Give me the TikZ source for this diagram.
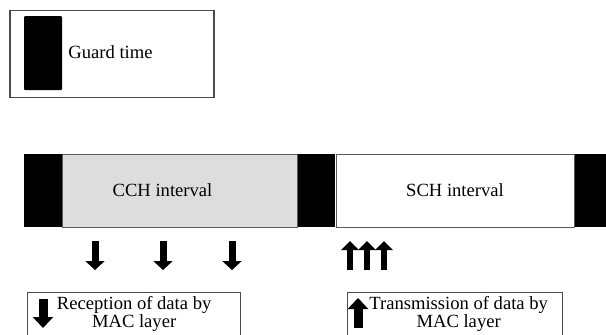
\documentclass[tikz,border=0pt]{standalone}
\usepackage{fontspec}
\setmainfont{Liberation Serif}
\usetikzlibrary{arrows.meta,positioning}

\begin{document}
\begin{tikzpicture}[x=1pt, y=-1pt,
  every node/.style = {font=\fontsize{18.6}{18}\selectfont, inner sep=0pt},
  guard/.style  = {rectangle, fill=black, minimum width=37pt,
                   minimum height=73pt},
  slot/.style   = {rectangle, draw=black!65, line width=0.8pt,
                   minimum height=73pt},
  keybox/.style = {rectangle, draw=black!70, line width=1.3pt,
                   anchor=north west},
  recv/.style   = {-{Triangle[width=19pt, length=9pt]}, line width=7pt},
  send/.style   = {-{Triangle[width=17pt, length=9pt]}, line width=6pt},
  keyarrow/.style = {-{Triangle[width=20pt, length=11pt]}, line width=9pt},
]
  \useasboundingbox (0,0) rectangle (606,335);

  % legend: guard time
  \node[keybox, minimum width=204pt, minimum height=87pt] (guardkey) at (9.3,10) {};
  \node[guard, minimum width=38pt, minimum height=74pt,
        rounded corners=1pt] (guardsym) at (43,53) {};
  \node[anchor=base] (guardtext) at (110.5,58) {Guard time};

  % sync interval
  \node[guard, minimum width=38pt, anchor=west] (g1) at (24,190.5) {};
  \node[slot, fill=gray!27, minimum width=235pt, right=0pt of g1] (cch) {};
  \node[guard, right=0pt of cch] (g2) {};
  \node[slot, fill=white, minimum width=238pt, right=0pt of g2] (sch)
    {SCH interval};
  \node[guard, minimum width=60pt, right=0pt of sch] (g3) {};
  \node[anchor=base] (cchtext) at (162.5,196) {CCH interval};

  % data to and from the MAC layer
  \foreach \x in {95,163,232}
    \draw[recv] (\x,241) -- (\x,270);
  \foreach \x in {350,367,384}
    \draw[send] (\x,270) -- (\x,241);

  % legend: arrows
  \node[keybox, minimum width=213pt, minimum height=60pt] (recvkey) at (27,292) {};
  \node[below=4.5pt of recvkey.north, align=center] (recvtext)
    {Reception of data by\\MAC layer};
  \draw[keyarrow] ([xshift=16pt, yshift=-7pt]recvkey.north west) -- ++(0,29);

  \node[keybox, minimum width=215pt, minimum height=60pt] (sendkey) at (347,292) {};
  \node[below=4.5pt of sendkey.north, xshift=3.5pt, align=center] (sendtext)
    {Transmission of data by\\MAC layer};
  \draw[keyarrow] ([xshift=11pt, yshift=-36pt]sendkey.north west) -- ++(0,-30);
\end{tikzpicture}
\end{document}
